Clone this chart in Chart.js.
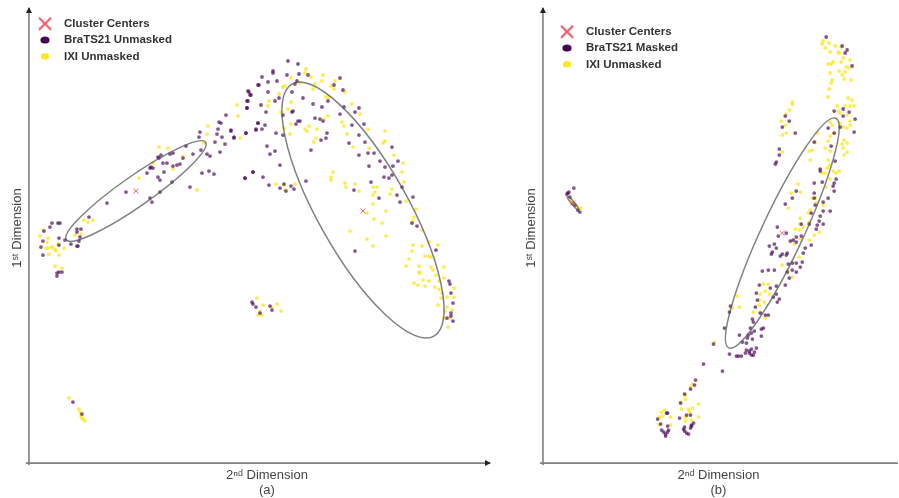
<!DOCTYPE html>
<html>
<head>
<meta charset="utf-8">
<title>Latent space clusters</title>
<script src="https://cdn.jsdelivr.net/npm/chart.js@4"></script>
<style>
    html, body { margin: 0; padding: 0; background: #fff; overflow: hidden; }
    body { position: relative; width: 899px; height: 498px; }
    canvas { position: absolute; top: -20px; filter: blur(0.5px); }
    #chart-a { left: 0; }
    #chart-b { left: 515px; }
</style>
</head>
<body>
<canvas id="chart-a" width="515" height="518"></canvas>
<canvas id="chart-b" width="384" height="518"></canvas>
<script>
const seriesCenters = 'Cluster Centers';
const seriesBratsA = 'BraTS21 Unmasked';
const seriesBratsB = 'BraTS21 Masked';
const seriesIxi = 'IXI Unmasked';
const xTitle = ['2ⁿᵈ Dimension'];
const yTitle = '1ˢᵗ Dimension';

const centersA = [[107, 272], [334, 252]];
const centersB = [[30, 260], [240, 230]];

const bratsA = [
    [229,378],[219,372],[221,368],[218,362],[218,355],[197,348],[190,341],[192,340],[189,334],[171,331],
    [170,326],[188,329],[193,326],[202,332],[205,326],[217,330],[227,334],[229,340],[186,321],[196,319],
    [191,311],[178,309],[181,307],[172,313],[164,309],[157,317],[154,305],[144,310],[141,309],[132,308],
    [129,306],[130,305],[134,300],[138,300],[122,296],[121,295],[124,295],[118,290],[129,286],[131,283],
    [135,291],[144,297],[148,298],[151,299],[143,281],[173,290],[180,292],[185,289],[216,285],[224,291],
    [161,276],[131,271],[121,265],[123,261],[97,271],[78,260],[60,246],[23,240],[29,240],[31,240],
    [21,236],[15,232],[48,234],[52,234],[48,231],[51,226],[30,225],[14,222],[12,216],[30,218],
    [42,219],[48,217],[50,222],[36,223],[49,217],[14,208],[28,190],[30,191],[28,187],[33,191],
    [259,402],[269,399],[244,392],[244,390],[233,386],[258,388],[270,389],[279,388],[239,381],[248,382],
    [230,378],[268,382],[266,379],[311,385],[305,378],[314,373],[220,371],[222,368],[239,371],[263,371],
    [250,365],[246,362],[219,362],[232,358],[218,355],[237,351],[274,365],[284,359],[293,356],[299,362],
    [315,356],[330,355],[326,351],[311,349],[264,352],[263,351],[254,348],[286,345],[291,344],[294,342],
    [269,342],[271,342],[267,339],[229,340],[236,338],[233,334],[227,333],[217,330],[202,333],[205,325],
    [247,330],[254,328],[298,330],[297,325],[292,323],[323,338],[335,339],[330,328],[320,320],[336,321],
    [363,316],[238,317],[246,312],[241,309],[282,313],[330,308],[339,310],[345,310],[351,302],[369,302],
    [356,296],[364,297],[340,297],[251,298],[224,291],[216,285],[234,286],[240,278],[255,279],[251,275],
    [262,277],[265,274],[257,272],[277,282],[355,286],[360,285],[363,288],[342,281],[373,276],[325,273],
    [350,265],[368,268],[384,266],[371,261],[383,240],[388,237],[407,213],[326,212],[420,182],[421,179],
    [422,170],[424,160],[422,150],[422,147],[418,145],[424,142],[223,161],[224,159],[227,156],[231,150],
    [241,157],[243,153],[44,61],[53,49]
];

const ixiA = [
    [208,358],[209,347],[179,337],[178,329],[130,316],[139,315],[154,307],[124,300],[144,294],[110,285],
    [168,273],[211,325],[175,320],[64,243],[59,241],[55,243],[14,233],[11,227],[19,225],[18,221],
    [19,215],[23,216],[26,214],[35,215],[46,228],[52,229],[30,208],[20,209],[26,197],[33,195],
    [27,212],[23,216],[17,215],[29,219],[277,394],[276,390],[262,385],[282,386],[294,388],[293,382],
    [306,382],[256,377],[254,376],[271,380],[286,379],[284,374],[302,377],[305,374],[316,371],[250,369],
    [240,362],[239,357],[262,361],[259,354],[252,351],[297,366],[300,366],[323,359],[331,349],[299,347],
    [295,344],[313,341],[315,337],[339,334],[318,329],[262,339],[255,335],[261,329],[280,337],[288,334],
    [276,334],[278,332],[287,325],[285,321],[356,332],[356,322],[354,320],[324,316],[340,315],[365,308],
    [374,300],[373,291],[375,281],[304,291],[302,286],[302,283],[316,280],[317,276],[326,279],[330,272],
    [344,276],[348,276],[346,271],[344,268],[363,274],[361,269],[247,279],[255,278],[266,279],[256,273],
    [344,259],[357,252],[338,250],[345,244],[353,240],[321,232],[338,224],[344,217],[357,227],[377,262],
    [387,254],[385,246],[384,242],[393,233],[400,221],[384,218],[393,217],[409,218],[383,212],[380,204],
    [396,207],[400,207],[402,206],[377,197],[390,197],[402,196],[415,196],[404,193],[390,191],[391,190],
    [407,188],[394,183],[400,182],[415,185],[410,182],[385,180],[389,178],[396,177],[406,176],[410,174],
    [425,175],[413,170],[412,165],[418,166],[425,166],[409,158],[418,156],[416,152],[423,153],[415,145],
    [421,145],[419,136],[228,165],[234,158],[229,148],[233,148],[248,159],[252,152],[243,156],[231,152],
    [40,65],[50,54],[51,51],[52,47],[53,45],[56,42],[54,44]
];

const bratsB = [
    [31,275],[26,271],[24,269],[25,270],[27,266],[35,253],[37,251],[32,258],
    [284,426],[300,417],[305,413],[303,410],[310,397],[292,352],[301,354],[307,351],[301,347],[313,344],
    [243,347],[247,342],[240,336],[253,330],[286,335],[298,336],[292,330],[312,331],[272,321],[289,317],
    [237,314],[237,308],[234,301],[233,299],[293,302],[278,294],[278,292],[272,280],[280,281],[294,284],
    [292,280],[291,277],[292,272],[272,270],[254,272],[250,265],[243,259],[272,265],[286,265],[281,261],
    [273,258],[281,252],[288,252],[278,247],[269,250],[277,242],[275,238],[267,239],[281,239],[235,236],
    [244,230],[236,227],[259,239],[274,234],[259,227],[254,226],[251,223],[248,222],[254,221],[269,218],
    [263,215],[261,210],[232,219],[227,217],[234,215],[230,211],[229,209],[240,209],[238,207],[245,210],
    [244,208],[260,201],[250,200],[246,199],[254,200],[258,196],[250,193],[220,192],[226,193],[232,193],
    [245,191],[254,191],[247,185],[217,178],[234,177],[243,178],[228,175],[214,170],[234,169],[231,166],
    [237,164],[235,161],[215,163],[213,156],[218,150],[223,148],[226,148],[188,157],[187,151],[210,144],
    [211,141],[221,135],[219,134],[182,135],[208,135],[212,132],[209,130],[206,128],[197,128],[219,127],
    [205,125],[210,124],[200,121],[204,120],[171,119],[214,115],[209,114],[204,113],[207,112],[212,111],
    [203,110],[207,110],[209,108],[187,109],[211,108],[194,107],[196,107],[199,107],[161,99],[180,92],
    [153,83],[152,78],[148,74],[142,69],[138,60],[125,50],[124,50],[144,48],[148,48],[115,44],
    [137,45],[118,39],[125,37],[151,40],[149,38],[142,36],[141,34],[142,32],[144,30],[146,29],
    [148,35],[149,37],[119,33],[121,31],[123,29],[123,27],[125,31],[126,33]
];

const ixiB = [
    [38,255],[28,264],[30,260],[34,256],
    [287,420],[281,422],[280,419],[283,415],[288,411],[293,417],[296,411],[297,410],[299,416],[301,405],
    [308,403],[286,399],[291,401],[289,399],[299,401],[304,396],[307,395],[297,392],[303,391],[300,388],
    [288,390],[302,384],[309,383],[290,383],[289,380],[287,374],[286,366],[306,365],[310,363],[250,361],
    [250,359],[247,353],[244,349],[239,342],[243,338],[244,330],[240,328],[295,357],[303,357],[308,357],
    [312,357],[296,352],[298,350],[305,348],[308,342],[288,341],[290,338],[298,340],[301,336],[308,338],
    [305,335],[275,330],[273,321],[292,330],[288,327],[302,323],[286,322],[300,319],[305,320],[283,315],
    [288,312],[301,315],[305,311],[302,308],[270,313],[267,312],[240,311],[268,303],[286,303],[287,298],
    [285,295],[291,292],[297,292],[294,290],[283,290],[280,290],[288,284],[256,279],[284,276],[258,271],
    [249,270],[270,265],[273,265],[246,255],[274,260],[281,258],[268,253],[266,250],[258,245],[267,241],
    [258,239],[253,234],[257,233],[277,231],[261,236],[272,228],[250,223],[258,224],[252,219],[267,223],
    [257,206],[240,198],[250,186],[245,192],[221,179],[226,179],[218,169],[223,172],[227,169],[195,167],
    [217,163],[222,161],[190,155],[197,156],[217,158],[211,151],[218,151],[223,145],[172,121],[150,79],
    [148,76],[143,68],[143,64],[138,61],[156,59],[139,54],[146,54],[150,55],[147,51],[119,51],
    [122,53],[120,47],[117,46],[128,46],[143,46],[143,42],[156,46],[116,39],[128,38],[149,43]
];

// Ellipses around the clusters: center, half axes, tilt in degrees
const ellipsesA = [
    { cx: 107, cy: 272, a: 85, b: 15, tilt: 35 },
    { cx: 334, cy: 253, a: 144.6, b: 45, tilt: -60.6 }
];
const ellipsesB = [
    { cx: 30, cy: 260, a: 9, b: 1.5, tilt: -50 },
    { cx: 240, cy: 230, a: 127, b: 21, tilt: 65 }
];

// Legend icons differ in size, so they are small canvases rather than the point styles
function makeIcon(draw) {
    const icon = document.createElement('canvas');
    icon.width = 16;
    icon.height = 14;
    draw(icon.getContext('2d'));
    return icon;
}

const legendIcons = [
    makeIcon(ctx => {
        ctx.strokeStyle = '#f4555f';
        ctx.lineWidth = 2;
        ctx.beginPath();
        ctx.moveTo(2, 1);
        ctx.lineTo(14, 13);
        ctx.moveTo(14, 1);
        ctx.lineTo(2, 13);
        ctx.stroke();
    }),
    makeIcon(ctx => {
        ctx.fillStyle = '#440154';
        ctx.beginPath();
        ctx.ellipse(8, 7, 4.6, 3.5, 0, 0, Math.PI * 2);
        ctx.fill();
    }),
    makeIcon(ctx => {
        ctx.fillStyle = '#fde725';
        ctx.beginPath();
        ctx.ellipse(8, 7, 4.2, 3.3, 0, 0, Math.PI * 2);
        ctx.fill();
    })
];

// Draws the ellipses, axis lines and arrow heads, and moves the legend onto the plot
const panelPlugin = {
    id: 'panel',
    afterLayout(chart, args, opts) {
        const legend = chart.legend;
        const pad = legend.options.labels.padding;
        legend.left = opts.legendX - pad;
        legend.top = opts.legendY - pad;
        legend.right = legend.left + legend.width;
        legend.bottom = legend.top + legend.height;
    },
    beforeDatasetsDraw(chart, args, opts) {
        const ctx = chart.ctx;
        const { x, y } = chart.scales;
        const x0 = x.getPixelForValue(0);
        const y0 = y.getPixelForValue(0);
        const xEnd = x.getPixelForValue(opts.xEnd);
        const yEnd = y.getPixelForValue(opts.yEnd);

        ctx.save();
        ctx.strokeStyle = '#7f7f7f';
        ctx.lineWidth = 1.6;
        ctx.beginPath();
        ctx.moveTo(x0, y0 + 2);
        ctx.lineTo(x0, yEnd);
        ctx.moveTo(x0 - 3, y0);
        ctx.lineTo(xEnd, y0);
        ctx.stroke();

        ctx.fillStyle = '#222';
        ctx.beginPath();
        ctx.moveTo(x0, yEnd - 1);
        ctx.lineTo(x0 - 3, yEnd + 5);
        ctx.lineTo(x0 + 3, yEnd + 5);
        ctx.fill();
        if (opts.xArrow) {
            ctx.beginPath();
            ctx.moveTo(xEnd + 1, y0);
            ctx.lineTo(xEnd - 5, y0 - 3);
            ctx.lineTo(xEnd - 5, y0 + 3);
            ctx.fill();
        }
        ctx.restore();
    },
    afterDatasetsDraw(chart, args, opts) {
        const ctx = chart.ctx;
        const { x, y } = chart.scales;
        ctx.save();
        ctx.strokeStyle = 'rgba(85,85,85,0.75)';
        ctx.lineWidth = 1.5;
        opts.ellipses.forEach(e => {
            const rx = x.getPixelForValue(e.a) - x.getPixelForValue(0);
            const ry = x.getPixelForValue(e.b) - x.getPixelForValue(0);
            ctx.beginPath();
            ctx.ellipse(x.getPixelForValue(e.cx), y.getPixelForValue(e.cy), rx, ry,
                -e.tilt * Math.PI / 180, 0, Math.PI * 2);
            ctx.stroke();
        });
        ctx.restore();
    }
};

function renderPanel(id, cfg) {
    const titleFont = { family: '"Liberation Sans", Arial, sans-serif', size: 13, lineHeight: 1.15 };
    new Chart(document.getElementById(id), {
        type: 'scatter',
        plugins: [panelPlugin],
        data: {
            datasets: [
                {
                    label: seriesCenters,
                    data: cfg.centers,
                    pointStyle: 'crossRot',
                    pointRadius: 3.6,
                    pointBorderWidth: 1,
                    pointBorderColor: 'rgba(240,70,85,0.85)',
                    pointBackgroundColor: 'rgba(240,70,85,0.85)'
                },
                {
                    label: cfg.bratsLabel,
                    data: cfg.brats,
                    pointRadius: 1.9,
                    pointBorderWidth: 0,
                    pointBackgroundColor: 'rgba(68,1,84,0.66)'
                },
                {
                    label: seriesIxi,
                    data: cfg.ixi,
                    pointRadius: 1.9,
                    pointBorderWidth: 0,
                    pointBackgroundColor: 'rgba(253,231,37,0.8)'
                }
            ]
        },
        options: {
            responsive: false,
            animation: false,
            layout: { padding: cfg.padding },
            scales: {
                x: {
                    min: 0,
                    max: cfg.xMax,
                    grid: { display: false, drawTicks: false, tickLength: 0 },
                    border: { display: false },
                    ticks: { display: false },
                    title: {
                        display: true,
                        text: [xTitle[0], cfg.caption],
                        color: '#444',
                        font: titleFont,
                        padding: { top: 5, bottom: 0 }
                    }
                },
                y: {
                    min: 0,
                    max: 470,
                    grid: { display: false, drawTicks: false, tickLength: 0 },
                    border: { display: false },
                    ticks: { display: false },
                    title: {
                        display: true,
                        text: yTitle,
                        color: '#444',
                        font: titleFont,
                        padding: { top: 0, bottom: 4 }
                    }
                }
            },
            plugins: {
                tooltip: { enabled: false },
                legend: {
                    position: 'chartArea',
                    align: 'start',
                    labels: {
                        usePointStyle: true,
                        pointStyleWidth: 26.5,
                        padding: 4.8,
                        color: '#333',
                        font: { family: '"Liberation Sans", Arial, sans-serif', size: 11.5, weight: 'bold' },
                        generateLabels(chart) {
                            const items = Chart.defaults.plugins.legend.labels.generateLabels(chart);
                            items.forEach((item, i) => { item.pointStyle = legendIcons[i]; });
                            return items;
                        }
                    }
                },
                panel: cfg.panel
            }
        }
    });
}

renderPanel('chart-a', {
    centers: centersA,
    brats: bratsA,
    ixi: ixiA,
    bratsLabel: seriesBratsA,
    caption: '(a)',
    xMax: 476,
    padding: { left: 10, right: 10, top: 13, bottom: 0 },
    panel: { ellipses: ellipsesA, xEnd: 461, yEnd: 455, xArrow: true, legendX: 31.75, legendY: 38 }
});

renderPanel('chart-b', {
    centers: centersB,
    brats: bratsB,
    ixi: ixiB,
    bratsLabel: seriesBratsB,
    caption: '(b)',
    xMax: 352,
    padding: { left: 9, right: 4, top: 13, bottom: 0 },
    panel: { ellipses: ellipsesB, xEnd: 356, yEnd: 455, xArrow: false, legendX: 38.75, legendY: 46 }
});
</script>
</body>
</html>
